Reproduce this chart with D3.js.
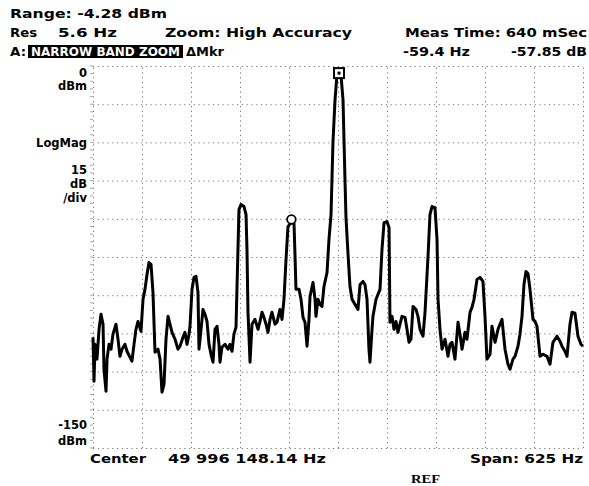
<!DOCTYPE html>
<head>
  <meta charset="UTF-8">
  <style>
    *{ margin: 0px; }
    body{ background-color: white; }
    svg{ position: absolute; font-family: "DejaVu Sans", sans-serif; font-weight: bold; font-size: 12px; }
    .grid line{ stroke: #777; stroke-width: 1px; stroke-dasharray: 1.2,3.6; }
    .grid path{ display: none; }
  </style>
  <script src="https://d3js.org/d3.v7.min.js"></script>
</head>
<body>
  <svg id="chart" width="589" height="486"></svg>
  <script>
    // offset from centre (Hz) and level (dBm)
    var freqOffset = [
      -312.5,-311.2,-309.9,-307.4,-304.8,-302.3,-299.7,-298.5,-295.9,-294.6,
      -292.1,-289.5,-287.0,-283.2,-280.6,-278.1,-275.5,-271.7,-269.1,-265.3,
      -262.8,-260.2,-257.7,-255.1,-251.3,-248.7,-246.2,-243.6,-241.1,-238.5,
      -236.0,-233.4,-229.6,-227.0,-224.5,-221.9,-219.4,-216.8,-214.3,-211.7,
      -207.9,-204.1,-201.5,-197.7,-195.2,-192.6,-190.0,-188.8,-186.2,-183.7,
      -181.1,-178.6,-177.3,-174.7,-172.2,-169.6,-167.1,-164.5,-162.0,-159.4,
      -156.9,-154.3,-151.8,-150.5,-148.0,-144.1,-140.3,-137.8,-135.2,-132.7,
      -130.1,-127.6,-126.3,-123.7,-119.9,-117.3,-116.1,-114.8,-112.2,-109.7,
      -105.9,-102.0,-99.5,-96.9,-94.4,-91.8,-89.3,-86.7,-84.2,-80.4,
      -77.8,-74.0,-71.4,-68.9,-66.3,-63.8,-59.9,-56.1,-54.8,-53.6,
      -49.7,-47.2,-44.6,-42.1,-39.5,-37.0,-35.7,-31.9,-29.3,-28.1,
      -25.5,-23.0,-20.4,-17.9,-14.0,-11.5,-8.9,-7.7,-6.4,-3.8,
      -1.3,1.3,3.8,6.4,7.7,8.9,10.2,12.8,15.3,17.9,
      21.7,25.5,28.1,31.9,34.4,37.0,39.5,40.8,43.4,44.6,
      48.5,51.0,53.6,56.1,58.7,62.5,65.1,66.3,68.9,71.4,
      74.0,76.5,79.1,81.6,85.5,88.0,90.6,93.1,95.7,99.5,
      102.0,104.6,108.4,111.0,114.8,117.3,119.9,123.7,126.3,127.6,
      130.1,132.7,136.5,140.3,142.9,145.4,149.2,153.1,155.6,158.2,
      162.0,164.5,168.4,170.9,173.5,177.3,181.1,184.9,187.5,190.0,
      193.9,196.4,200.3,204.1,206.6,209.2,213.0,216.8,219.4,223.2,
      225.8,229.6,232.1,234.7,237.2,239.8,242.3,244.9,248.7,251.3,
      253.8,257.7,261.5,266.6,270.4,274.2,279.3,283.2,285.7,289.5,
      292.1,295.9,298.5,302.3,306.1,309.9,312.5
    ];
    var levelDbm = [
      -106.5,-123.8,-109.3,-115.1,-103.4,-97.5,-101.4,-119.1,-127.7,-115.1,
      -109.3,-111.2,-105.3,-101.4,-107.3,-114.0,-111.2,-109.3,-112.0,-114.4,
      -115.9,-109.3,-103.4,-100.3,-104.2,-91.6,-87.7,-81.9,-77.2,-77.9,
      -88.9,-112.4,-111.2,-115.1,-128.1,-124.9,-107.3,-98.3,-101.4,-104.6,
      -107.3,-111.2,-110.0,-106.5,-104.6,-109.3,-105.3,-102.2,-87.7,-83.0,
      -82.6,-88.9,-111.2,-103.4,-95.6,-97.5,-100.3,-109.3,-113.2,-116.3,
      -103.4,-102.2,-109.3,-116.3,-110.4,-109.3,-111.2,-109.3,-112.0,-105.3,
      -102.6,-72.1,-56.4,-54.4,-55.2,-58.4,-72.1,-96.7,-116.3,-101.4,
      -99.5,-103.4,-100.3,-96.7,-98.7,-101.4,-104.6,-99.5,-96.7,-101.4,
      -100.6,-95.6,-99.5,-91.6,-76.0,-63.1,-61.5,-61.9,-74.8,-87.7,
      -87.7,-91.6,-98.7,-100.6,-110.0,-99.5,-90.5,-85.0,-91.6,-98.3,
      -91.6,-93.6,-94.4,-86.6,-81.1,-68.1,-58.4,-44.6,-29.8,-13.3,
      -3.5,-2.4,-3.5,-13.3,-29.8,-44.6,-59.5,-74.0,-86.6,-91.6,
      -93.6,-95.6,-85.8,-84.6,-85.8,-91.6,-111.2,-116.3,-103.4,-98.3,
      -91.6,-89.7,-87.7,-72.1,-61.5,-61.1,-63.4,-100.6,-98.3,-103.4,
      -100.3,-104.6,-101.4,-98.3,-98.7,-103.4,-108.5,-107.3,-94.4,-95.6,
      -98.3,-103.4,-106.1,-96.7,-74.8,-58.4,-55.2,-55.6,-68.1,-91.6,
      -103.4,-111.2,-107.3,-114.0,-109.3,-108.5,-115.1,-100.6,-105.3,-111.2,
      -104.6,-107.3,-96.7,-94.8,-91.6,-83.8,-83.0,-84.6,-98.3,-115.1,
      -113.2,-102.2,-108.5,-103.4,-101.4,-99.5,-111.2,-117.1,-119.1,-115.1,
      -114.0,-110.0,-105.3,-98.3,-85.8,-80.7,-81.5,-87.7,-99.5,-100.3,
      -102.2,-114.0,-113.2,-114.0,-117.1,-108.5,-106.1,-108.1,-110.0,-112.0,
      -114.0,-101.4,-96.7,-97.1,-106.1,-109.3,-110.0
    ];

    var freqGrid = [-312.5, -250, -187.5, -125, -62.5, 0, 62.5, 125, 187.5, 250, 312.5];
    var levelGrid = [0, -15, -30, -45, -60, -75, -90, -105, -120, -135, -150];

    var deltaMkrHz = -59.4, deltaMkrDb = -57.85;

    var svg = d3.select("#chart");
    var plotLeft = 93, plotRight = 583, plotTop = 66, plotBottom = 448;

    var x = d3.scaleLinear().domain([-312.5, 312.5]).range([plotLeft, plotRight]);
    var y = d3.scaleLinear().domain([-150, 0]).range([plotBottom, plotTop]);

    // dotted graticule
    svg.append("g")
      .attr("class", "grid")
      .attr("transform", "translate(0," + plotBottom + ")")
      .call(d3.axisBottom(x).tickValues(freqGrid).tickSize(-(plotBottom - plotTop)).tickFormat(""));
    svg.append("g")
      .attr("class", "grid")
      .attr("transform", "translate(" + plotLeft + ",0)")
      .call(d3.axisLeft(y).tickValues(levelGrid).tickSize(-(plotRight - plotLeft)).tickFormat(""));

    // small minor ticks on the left edge
    svg.append("g")
      .selectAll("line")
      .data(d3.range(0, 151, 3))
      .enter()
      .append("line")
      .attr("x1", plotLeft - 3).attr("x2", plotLeft)
      .attr("y1", d => y(-d)).attr("y2", d => y(-d))
      .attr("stroke", "#aaa")
      .attr("stroke-width", 1);

    var data = freqOffset.map((f, i) => ({f: f, l: levelDbm[i]}));

    svg.append("path")
      .datum(data)
      .attr("fill", "none")
      .attr("stroke", "black")
      .attr("stroke-width", 3)
      .attr("stroke-linejoin", "round")
      .attr("d", d3.line().x(d => x(d.f)).y(d => y(d.l)));

    // markers
    var peak = data.reduce((a, b) => b.l > a.l ? b : a);
    svg.append("rect")
      .attr("x", x(peak.f) - 5).attr("y", y(peak.l) - 4)
      .attr("width", 10).attr("height", 10)
      .attr("fill", "white").attr("stroke", "black").attr("stroke-width", 2);
    svg.append("rect")
      .attr("x", x(peak.f) - 1.5).attr("y", y(peak.l) - 0.5)
      .attr("width", 3).attr("height", 3).attr("fill", "black");
    svg.append("circle")
      .attr("cx", x(deltaMkrHz)).attr("cy", y(peak.l + deltaMkrDb))
      .attr("r", 4.3)
      .attr("fill", "white").attr("stroke", "black").attr("stroke-width", 1.8);

    // annotation texts
    var labels = [
      {t: "Range: -4.28 dBm", x: 10, y: 18, w: 157},
      {t: "Res", x: 10, y: 37, w: 27},
      {t: "5.6 Hz", x: 58, y: 37, w: 59},
      {t: "Zoom: High Accuracy", x: 165, y: 37, w: 187},
      {t: "Meas Time: 640 mSec", x: 405, y: 37, w: 182},
      {t: "A:", x: 10, y: 56, w: 16},
      {t: "\u0394Mkr", x: 186, y: 56, w: 38},
      {t: "-59.4 Hz", x: 403, y: 56, w: 67},
      {t: "-57.85 dB", x: 511, y: 56, w: 76},
      {t: "Center", x: 90, y: 463, w: 56},
      {t: "49 996 148.14 Hz", x: 168, y: 463, w: 158},
      {t: "Span: 625 Hz", x: 470, y: 463, w: 113}
    ];
    svg.append("g")
      .selectAll("text")
      .data(labels)
      .enter()
      .append("text")
      .attr("x", d => d.x).attr("y", d => d.y)
      .attr("textLength", d => d.w)
      .attr("lengthAdjust", "spacingAndGlyphs")
      .text(d => d.t);

    svg.append("rect")
      .attr("x", 28).attr("y", 45).attr("width", 155).attr("height", 13)
      .attr("fill", "black");
    svg.append("text")
      .attr("x", 31).attr("y", 56)
      .attr("textLength", 149).attr("lengthAdjust", "spacingAndGlyphs")
      .attr("fill", "white")
      .text("NARROW BAND ZOOM");

    var sideLabels = [
      {t: "0", y: 77}, {t: "dBm", y: 90},
      {t: "LogMag", y: 147},
      {t: "15", y: 174}, {t: "dB", y: 188}, {t: "/div", y: 202},
      {t: "-150", y: 429}, {t: "dBm", y: 445}
    ];
    svg.append("g")
      .selectAll("text")
      .data(sideLabels)
      .enter()
      .append("text")
      .attr("x", 87).attr("y", d => d.y)
      .attr("text-anchor", "end")
      .attr("font-size", "11.5px")
      .text(d => d.t);

    svg.append("text")
      .attr("x", 411).attr("y", 483)
      .attr("textLength", 29).attr("lengthAdjust", "spacingAndGlyphs")
      .attr("font-family", "Liberation Serif")
      .attr("font-size", "12px")
      .text("REF");
  </script>
</body>
